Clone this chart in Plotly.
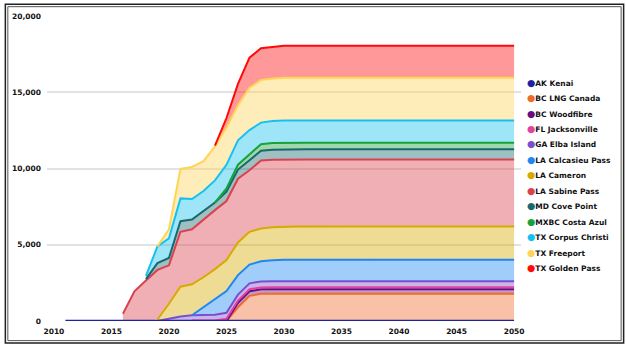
import plotly.graph_objects as go

# Export capacity by terminal, MMcf/d, one value per year 2011-2050
years = list(range(2011, 2051))


def series(start, ramp, plateau):
    """Values before `start` are missing; `ramp` lists the yearly values from
    `start`, and `plateau` holds for the remaining years."""
    vals = [None] * (start - 2011) + list(ramp)
    vals += [plateau] * (len(years) - len(vals))
    return vals


ak_kenai = series(2011, [], 0)
bc_lng_canada = series(2025, [0, 900, 1650, 1780], 1790)
bc_woodfibre = series(2025, [0, 300, 300], 300)
fl_jacksonville = series(2022, [30, 30, 30, 150, 140, 130], 120)
ga_elba_island = series(2019, [0, 150, 300, 350, 370, 380, 390], 390)
la_calcasieu_pass = series(2022, [0, 520, 1040, 1420, 1280, 1230, 1330, 1390], 1410)
la_cameron = series(2019, [100, 980, 1950, 2030, 1950, 1950, 2040, 2140, 2150, 2140, 2160], 2180)
la_sabine_pass = series(2016, [480, 1950, 2650, 3250, 2520, 3600, 3600, 3800, 3870,
                               3870, 4180, 4040, 4460, 4420], 4400)
md_cove_point = series(2018, [100, 450, 480, 690, 640, 560, 500, 620, 600, 650, 650], 665)
mxbc_costa_azul = series(2024, [0, 200, 320, 350, 420], 430)
tx_corpus_christi = series(2018, [210, 1090, 1290, 1500, 1350, 1290, 1450, 1550, 1600,
                                  1630, 1420, 1455], 1460)
tx_freeport = series(2019, [0, 600, 1930, 2100, 1960, 2230, 2450, 2300, 2780, 2790, 2780], 2810)
tx_golden_pass = series(2024, [50, 620, 1400, 1970, 2080, 2080], 2090)

terminals = [
    ("AK Kenai", ak_kenai, "#1e22a0"),
    ("BC LNG Canada", bc_lng_canada, "#ee6b2f"),
    ("BC Woodfibre", bc_woodfibre, "#6a0b80"),
    ("FL Jacksonville", fl_jacksonville, "#e0449f"),
    ("GA Elba Island", ga_elba_island, "#7a4fcf"),
    ("LA Calcasieu Pass", la_calcasieu_pass, "#1e88f2"),
    ("LA Cameron", la_cameron, "#d6ab00"),
    ("LA Sabine Pass", la_sabine_pass, "#d9414f"),
    ("MD Cove Point", md_cove_point, "#17696d"),
    ("MXBC Costa Azul", mxbc_costa_azul, "#17a23a"),
    ("TX Corpus Christi", tx_corpus_christi, "#17c1ef"),
    ("TX Freeport", tx_freeport, "#ffd457"),
    ("TX Golden Pass", tx_golden_pass, "#ff0a0a"),
]

x_ticks = [2010, 2015, 2020, 2025, 2030, 2035, 2040, 2045, 2050]
y_ticks = [0, 5000, 10000, 15000, 20000]


def rgba(hex_color, alpha):
    h = hex_color.lstrip("#")
    r, g, b = (int(h[i:i + 2], 16) for i in (0, 2, 4))
    return f"rgba({r},{g},{b},{alpha})"


# Stack the series: each band runs from its first reported year, sitting on
# the running total of the terminals listed before it.
running = [0] * len(years)
bands = []
for name, vals, color in terminals:
    xs, base, top = [], [], []
    for i, v in enumerate(vals):
        if v is None:
            continue
        xs.append(years[i])
        base.append(running[i])
        top.append(running[i] + v)
        running[i] += v
    bands.append((name, color, xs, base, top))

fig = go.Figure()
for name, color, xs, base, top in bands:
    fig.add_trace(go.Scatter(
        x=xs + xs[::-1], y=top + base[::-1], mode="lines", fill="toself",
        fillcolor=rgba(color, 0.42), line=dict(width=0),
        showlegend=False, hoverinfo="skip",
    ))
# Outlines; the bottom (AK Kenai) line is drawn last so it stays visible at zero
for name, color, xs, base, top in bands[1:] + bands[:1]:
    fig.add_trace(go.Scatter(
        x=xs, y=top, name=name, mode="lines",
        line=dict(color=color, width=2.5 if name == "AK Kenai" else 2),
        showlegend=False,
    ))

FONT = "DejaVu Sans"

# Legend drawn as a column of labels with coloured dots
L, R, T, B = 43, 105, 13, 24
W, H = 626 - L - R, 348 - T - B


def px_x(p):
    return (p - L) / W


def px_y(p):
    return (348 - B - p) / H


leg_top, leg_step = 80.5, 15.75
for i, (name, _, color) in enumerate(terminals):
    fig.add_annotation(
        xref="paper", yref="paper",
        x=px_x(525), y=px_y(leg_top + i * leg_step),
        xanchor="left", yanchor="middle", showarrow=False,
        text=(f"<span style='color:{color};font-size:9.5px'>●</span>"
              f"<b>{name}</b>"),
        font=dict(family=FONT, size=7.5, color="#111111"),
    )

# Double frame around the whole chart
fig.add_shape(type="rect", xref="paper", yref="paper",
              x0=px_x(1), x1=px_x(624.5), y0=px_y(346.5), y1=px_y(1),
              line=dict(color="#222222", width=1.5), fillcolor="rgba(0,0,0,0)")
fig.add_shape(type="rect", xref="paper", yref="paper",
              x0=px_x(3.5), x1=px_x(622), y0=px_y(344), y1=px_y(3.5),
              line=dict(color="#555555", width=1), fillcolor="rgba(0,0,0,0)")

fig.update_layout(
    width=626, height=348,
    margin=dict(l=L, r=R, t=T, b=B),
    paper_bgcolor="white", plot_bgcolor="white",
    font=dict(family=FONT, size=7.5, color="#111111"),
    xaxis=dict(
        range=[2009.4, 2050.6], tickvals=x_ticks,
        ticktext=[f"<b>{v}</b>" for v in x_ticks],
        showgrid=False, zeroline=False, showline=False, ticks="",
        ticklabelstandoff=4,
        tickfont=dict(family=FONT, size=7.5, color="#111111"),
    ),
    yaxis=dict(
        range=[0, 20000], tickvals=y_ticks,
        ticktext=[f"<b>{v:,}</b>" for v in y_ticks],
        showgrid=True, gridcolor="#e2e2e2", gridwidth=1.5,
        zeroline=False, showline=False, ticks="",
        ticklabelstandoff=5,
        tickfont=dict(family=FONT, size=7.5, color="#111111"),
    ),
)

fig.write_html("out.html")
